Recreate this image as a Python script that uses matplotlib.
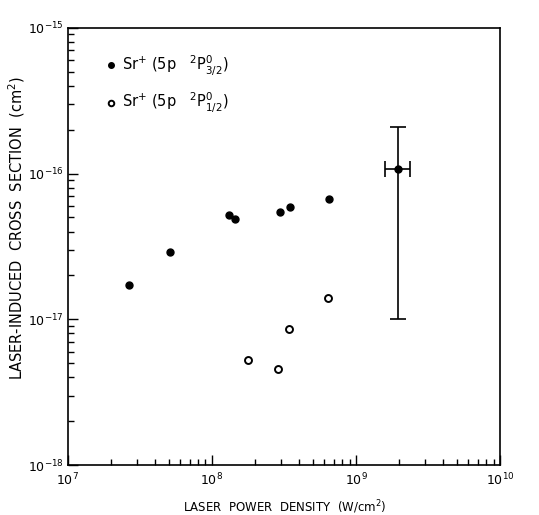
import matplotlib
matplotlib.use("Agg")
import matplotlib.pyplot as plt
from matplotlib.ticker import FixedLocator, NullFormatter

# Data
p32_x = [2.64e7, 5.1e7, 1.31e8, 1.45e8, 2.98e8, 3.48e8, 6.49e8]
p32_y = [1.73e-17, 2.89e-17, 5.18e-17, 4.86e-17, 5.49e-17, 5.88e-17, 6.71e-17]

p12_x = [6.36e8, 3.41e8, 1.78e8, 2.89e8]
p12_y = [1.39e-17, 8.63e-18, 5.26e-18, 4.57e-18]

err_x = [1.95e9]
err_y = [1.08e-16]
err_x_lo = [1.59e9]
err_x_hi = [2.37e9]
err_y_lo = [1.0e-17]
err_y_hi = [2.09e-16]

x_decades = [7, 8, 9, 10]
y_decades = [-18, -17, -16, -15]

label_32 = r"Sr$^{+}$ (5p   $^{2}$P$^{0}_{3/2}$)"
label_12 = r"Sr$^{+}$ (5p   $^{2}$P$^{0}_{1/2}$)"
xlabel = r"LASER  POWER  DENSITY  (W/cm$^{2}$)"
ylabel = r"LASER-INDUCED  CROSS  SECTION  (cm$^{2}$)"

plt.rcParams['font.family'] = ['DejaVu Sans']
plt.rcParams['mathtext.default'] = 'regular'

fig = plt.figure(figsize=(5.39, 5.15), dpi=100)
ax = fig.add_axes([0.126, 0.097, 0.802, 0.849])

ax.set_xscale('log')
ax.set_yscale('log')
ax.set_xlim(10.0 ** x_decades[0], 10.0 ** x_decades[-1])
ax.set_ylim(10.0 ** y_decades[0], 10.0 ** y_decades[-1])

ax.plot(p32_x, p32_y, 'o', color='black', markersize=5, label=label_32)
ax.plot(p12_x, p12_y, 'o', markerfacecolor='white', markeredgecolor='black',
        markeredgewidth=1.4, markersize=5, label=label_12)

xerr = [[err_x[0] - err_x_lo[0]], [err_x_hi[0] - err_x[0]]]
yerr = [[err_y[0] - err_y_lo[0]], [err_y_hi[0] - err_y[0]]]
ax.errorbar(err_x, err_y, xerr=xerr, yerr=yerr, fmt='o', color='black',
            markersize=5, elinewidth=1.2, capsize=6, capthick=1.2)

for s in ax.spines.values():
    s.set_linewidth(1.2)

ax.set_xticks([10.0 ** d for d in x_decades])
ax.set_xticklabels([r"$10^{%d}$" % d for d in x_decades])
ax.set_yticks([10.0 ** d for d in y_decades])
ax.set_yticklabels([r"$10^{%d}$" % d for d in y_decades])
x_minor = [m * 10.0 ** d for d in x_decades[:-1] for m in range(2, 10)]
y_minor = [m * 10.0 ** d for d in y_decades[:-1] for m in range(2, 10)]
ax.xaxis.set_minor_locator(FixedLocator(x_minor))
ax.yaxis.set_minor_locator(FixedLocator(y_minor))
ax.xaxis.set_minor_formatter(NullFormatter())
ax.yaxis.set_minor_formatter(NullFormatter())

ax.tick_params(which='both', direction='in', top=False, right=False, width=1.0)
ax.tick_params(which='major', length=7, labelsize=9)
ax.tick_params(axis='x', which='major', pad=5)
ax.tick_params(axis='y', which='major', pad=3)
ax.tick_params(which='minor', length=4)

ax.set_xlabel(xlabel, fontsize=8.5)
ax.set_ylabel(ylabel, fontsize=10.5)
ax.xaxis.set_label_coords(0.502, -0.076)
ax.yaxis.set_label_coords(-0.095, 0.543)

leg = ax.legend(loc='upper left', frameon=False, fontsize=10.5, handletextpad=0.2,
                handlelength=1.0, labelspacing=0.9, borderaxespad=0.0,
                markerscale=0.8, bbox_to_anchor=(0.07, 0.955))

fig.savefig('out.png', dpi=100)
